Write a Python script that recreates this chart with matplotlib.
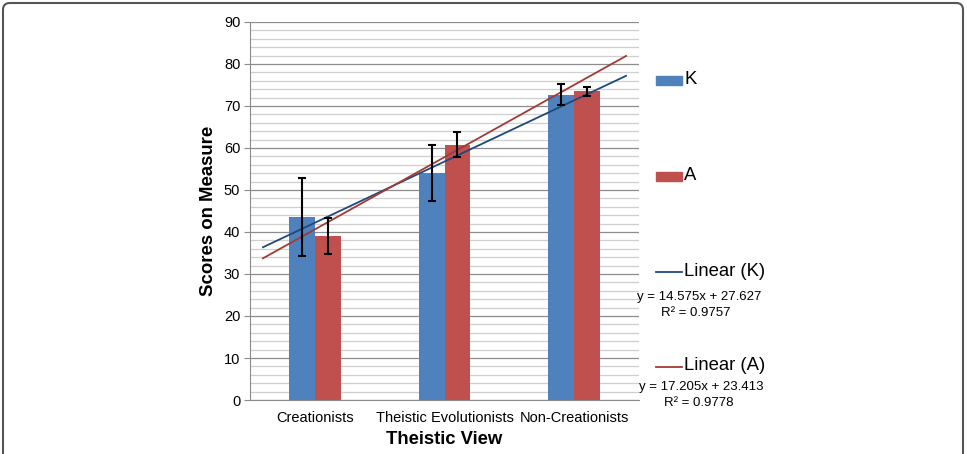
import numpy as np
import matplotlib.pyplot as plt
from matplotlib.patches import FancyBboxPatch, Rectangle
from matplotlib.lines import Line2D

plt.rcParams['font.family'] = ['Liberation Sans', 'DejaVu Sans']

# data
groups = ['Creationists', 'Theistic Evolutionists', 'Non-Creationists']
k_scores = [43.5, 54.0, 72.7]
a_scores = [39.0, 60.8, 73.5]
k_err = [9.3, 6.6, 2.5]
a_err = [4.3, 3.0, 1.1]
k_fit = (14.575, 27.627, 0.9757)
a_fit = (17.205, 23.413, 0.9778)

blue = '#4F81BD'
red = '#C0504D'
dark_blue = '#1F497D'
dark_red = '#A23A36'

fig = plt.figure(figsize=(9.67, 4.54), dpi=100)
ax = fig.add_axes([250/967, 1 - 400/454, 389/967, 378/454])

x = np.arange(len(groups))
w = 0.2
ax.bar(x - w/2, k_scores, w, color=blue, zorder=3)
ax.bar(x + w/2, a_scores, w, color=red, zorder=3)
ax.errorbar(x - w/2, k_scores, yerr=k_err, fmt='none', ecolor='black',
            elinewidth=1.5, capsize=3, capthick=1.5, zorder=5)
ax.errorbar(x + w/2, a_scores, yerr=a_err, fmt='none', ecolor='black',
            elinewidth=1.5, capsize=3, capthick=1.5, zorder=5)

# trendlines (Excel x = 1..3, forecast 0.4 each way)
xt = np.array([0.6, 3.4])
ax.plot(xt - 1, k_fit[0]*xt + k_fit[1], color=dark_blue, lw=1.3, zorder=4)
ax.plot(xt - 1, a_fit[0]*xt + a_fit[1], color=dark_red, lw=1.3, zorder=4)

ax.set_xlim(-0.5, 2.5)
ax.set_ylim(0, 90)
ax.set_yticks(np.arange(0, 91, 10))
ax.set_yticks(np.arange(0, 91, 2), minor=True)
ax.grid(axis='y', which='major', color='#8c8c8c', lw=0.9, zorder=0)
ax.grid(axis='y', which='minor', color='#cfcfcf', lw=0.9, zorder=0)
ax.set_xticks(x)
ax.set_xticklabels(groups, fontsize=10.5)
ax.tick_params(axis='x', length=0, pad=8)
ax.tick_params(axis='y', which='major', length=4, color='#8c8c8c', labelsize=10.5, pad=3)
ax.tick_params(axis='y', which='minor', length=0)
for s in ['top', 'right']:
    ax.spines[s].set_visible(False)
for s in ['left', 'bottom']:
    ax.spines[s].set_color('#8c8c8c')

ax.set_ylabel('Scores on Measure', fontsize=13.4, fontweight='bold', labelpad=5)
ax.set_xlabel('Theistic View', fontsize=13.3, fontweight='bold', labelpad=4)

# legend on the right, placed by hand
def fy(py):
    return 1 - py/454

def fx(px):
    return px/967

fig.patches.append(Rectangle((fx(656), fy(85)), 26/967, 9/454, color=blue,
                             transform=fig.transFigure))
fig.text(fx(684), fy(80), 'K', fontsize=13.3, va='center')
fig.patches.append(Rectangle((fx(656), fy(181)), 26/967, 9/454, color=red,
                             transform=fig.transFigure))
fig.text(fx(684), fy(176), 'A', fontsize=13.3, va='center')

fig.lines.append(Line2D([fx(656), fx(682)], [fy(272), fy(272)], color=dark_blue,
                        lw=1.3, transform=fig.transFigure))
fig.text(fx(684), fy(271), 'Linear (K)', fontsize=13.3, va='center')
fig.text(fx(699), fy(297), 'y = %.3fx + %.3f' % k_fit[:2], fontsize=9.5,
         ha='center', va='center')
fig.text(fx(696), fy(313), 'R² = %.4f' % k_fit[2], fontsize=9.5,
         ha='center', va='center')

fig.lines.append(Line2D([fx(656), fx(682)], [fy(367), fy(367)], color=dark_red,
                        lw=1.3, transform=fig.transFigure))
fig.text(fx(684), fy(366), 'Linear (A)', fontsize=13.3, va='center')
fig.text(fx(701), fy(387), 'y = %.3fx + %.3f' % a_fit[:2], fontsize=9.5,
         ha='center', va='center')
fig.text(fx(699), fy(403), 'R² = %.4f' % a_fit[2], fontsize=9.5,
         ha='center', va='center')

# rounded frame around the chart, running off the bottom
frame = FancyBboxPatch((fx(3), -0.1), fx(960), fy(3) + 0.1,
                       boxstyle='round,pad=0,rounding_size=0.007',
                       fc='none', ec='#555555', lw=1.5,
                       transform=fig.transFigure, mutation_aspect=967/454)
fig.patches.append(frame)

fig.savefig('out.png', dpi=100)
